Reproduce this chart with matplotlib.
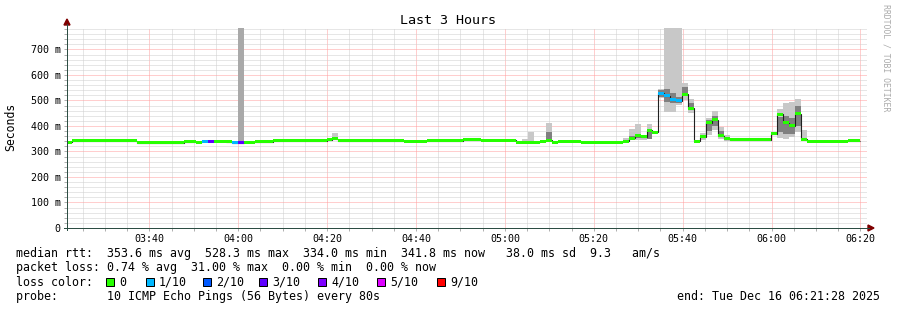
#!/usr/bin/env python3
"""
Smokeping style latency graph: Last 3 Hours
"""

import numpy as np
import matplotlib.pyplot as plt
from matplotlib.patches import Polygon, Rectangle
from matplotlib.lines import Line2D

W, H = 897, 310

start_clock = "03:21:28"
end_text = "end: Tue Dec 16 06:21:28 2025"
step_s = 80          # one probe round every 80 s
step_offset = -0.2   # first step starts just before the left edge
n_steps = 134

# median rtt, run-length coded over 80 s steps: first step, ms, loss (tenths)
seg_start = [0, 1, 12, 20, 22, 23, 24, 25, 27, 28, 29, 30, 32, 35, 44, 45, 46,
             57, 61, 67, 70, 76, 80, 81, 82, 83, 87, 94, 95, 96, 97, 98, 99,
             100, 101, 102, 103, 104, 105, 106, 107, 108, 109, 110, 111, 112,
             119, 120, 121, 122, 123, 124, 125, 132]
seg_median = [337, 342, 334, 338, 337, 341, 341, 341, 338, 335, 335, 336, 339,
              342, 346, 349, 342, 340, 342, 346, 344, 337, 341, 344, 337, 341,
              337, 340, 352, 361, 357, 384, 376, 528, 518, 502, 498, 525, 470,
              341, 357, 412, 424, 361, 349, 345, 369, 446, 413, 400, 447, 347,
              340, 343]
seg_loss = [0, 0, 0, 0, 0, 1, 3, 0, 0, 1, 3, 0, 0, 0, 0, 0, 0, 0, 0, 0, 0, 0,
            0, 0, 0, 0, 0, 0, 0, 0, 0, 0, 0, 1, 1, 1, 1, 0, 0, 0, 0, 0, 0, 0,
            0, 0, 0, 0, 0, 0, 0, 0, 0, 0]

# smoke (spread of the 10 pings) for the noisy steps
smoke_step = [29, 45, 57, 77, 78, 81, 94, 95, 96, 97, 98, 100, 101, 102, 103,
              104, 105, 107, 108, 109, 110, 111, 118, 120, 121, 122, 123, 124]
smoke_lo = [335, 346, 338, 337, 337, 341, 338, 345, 345, 345, 349, 510, 456,
            455, 482, 502, 450, 345, 365, 384, 349, 343, 343, 352, 348, 358,
            378, 345]
smoke_hi = [800, 372, 345, 350, 376, 413, 353, 388, 407, 365, 408, 545, 800,
            800, 800, 570, 505, 372, 431, 460, 397, 365, 354, 465, 489, 495,
            506, 384]
core_lo = [np.nan, np.nan, np.nan, np.nan, np.nan, 341, np.nan, 345, 353,
           np.nan, 349, 515, 494, 489, 490, 521, 463, np.nan, 380, 400, 355,
           np.nan, np.nan, 378, 370, 370, 400, np.nan]
core_hi = [np.nan, np.nan, np.nan, np.nan, np.nan, 376, np.nan, 360, 369,
           np.nan, 384, 540, 545, 530, 515, 554, 490, np.nan, 425, 440, 380,
           np.nan, np.nan, 436, 440, 430, 480, np.nan]

loss_labels = ["0", "1/10", "2/10", "3/10", "4/10", "5/10", "9/10"]
loss_tenths = [0, 1, 2, 3, 4, 5, 9]
loss_colors = ["#26ff00", "#00b8ff", "#0059ff", "#5e00ff", "#7e00ff",
               "#dd00ff", "#ff0000"]

tick_clock = ["03:40", "04:00", "04:20", "04:40", "05:00", "05:20", "05:40",
              "06:00", "06:20"]
ytick_vals = [0, 100, 200, 300, 400, 500, 600, 700]
ytick_labels = ["0", "100 m", "200 m", "300 m", "400 m", "500 m", "600 m",
                "700 m"]

legend_rows = [
    "median rtt:  353.6 ms avg  528.3 ms max  334.0 ms min  341.8 ms now   38.0 ms sd  9.3   am/s",
    "packet loss: 0.74 % avg  31.00 % max  0.00 % min  0.00 % now",
    "loss color:",
    "probe:       10 ICMP Echo Pings (56 Bytes) every 80s",
]

MONO = "DejaVu Sans Mono"


def clock_min(s):
    parts = [int(p) for p in s.split(":")]
    return parts[0] * 60 + parts[1] + (parts[2] / 60 if len(parts) > 2 else 0)


def fx(x):
    return x / W


def fy(y):
    return 1 - y / H


def step_time(k):
    return (np.asarray(k, dtype=float) + step_offset) * step_s / 60.0


t0 = clock_min(start_clock)
step_min = step_s / 60.0

fig = plt.figure(figsize=(W / 100, H / 100), dpi=100)
fig.patch.set_facecolor("white")
ax = fig.add_axes([fx(67), fy(228), 800 / W, 200 / H])

# smoke
sx = step_time(smoke_step)
lo = np.array(smoke_lo, float)
hi = np.array(smoke_hi, float)
shade = ["#a9a9a9" if k == 29 else "#c8c8c8" for k in smoke_step]
ax.bar(sx, hi - lo, bottom=lo, width=step_min, align="edge", color=shade,
       linewidth=0, zorder=2)
clo = np.array(core_lo, float)
chi = np.array(core_hi, float)
ok = ~np.isnan(clo)
ax.bar(sx[ok], (chi - clo)[ok], bottom=clo[ok], width=step_min, align="edge",
       color="#808080", linewidth=0, zorder=3)

# median: thin dark step line plus loss coloured band
edges = step_time(seg_start + [n_steps])
med = np.array(seg_median, float)
ax.stairs(med, edges, baseline=None, color="#202020", linewidth=0.8, zorder=4)
band = 3 / 0.255  # 3 px tall in ms
cmap = dict(zip(loss_tenths, loss_colors))
ax.bar(edges[:-1], band, bottom=med - band / 2, width=np.diff(edges),
       align="edge", color=[cmap[l] for l in seg_loss], linewidth=0, zorder=5)

# axes, grid
ax.set_xlim(0, 180)
ax.set_ylim(0, 784)
ax.set_xticks([clock_min(c) - t0 for c in tick_clock])
ax.set_xticklabels(tick_clock, fontfamily=MONO, fontsize=7.2)
ax.set_xticks(np.arange(clock_min("03:25") - t0, 180, 5), minor=True)
ax.set_yticks(ytick_vals)
ax.set_yticklabels(ytick_labels, fontfamily=MONO, fontsize=7.2)
ax.set_yticks(np.arange(0, 784, 20), minor=True)
dots = (0, (1, 1))
ax.grid(which="minor", color="#cfcfcf", linestyle=dots, linewidth=0.72)
ax.grid(which="major", color="#ff9f9f", linestyle=dots, linewidth=0.72)
ax.set_axisbelow(True)
ax.tick_params(which="both", length=2, width=0.72, color="#b0b0b0", pad=2.5)
for s in ax.spines.values():
    s.set_visible(False)

# axis lines and arrows
axis_col = "#2c4d43"
arrow_col = "#7f0000"
fig.add_artist(Line2D([fx(67), fx(67)], [fy(230), fy(24)], color=axis_col,
                      linewidth=0.72))
fig.add_artist(Line2D([fx(64), fx(869)], [fy(228), fy(228)], color=axis_col,
                      linewidth=0.72))
fig.add_artist(Polygon([(fx(64), fy(25)), (fx(70), fy(25)), (fx(67), fy(19))],
                       closed=True, color=arrow_col))
fig.add_artist(Polygon([(fx(868), fy(225)), (fx(868), fy(231)),
                        (fx(874), fy(228))], closed=True, color=arrow_col))

# texts
fig.text(fx(448), fy(24), "Last 3 Hours", ha="center", va="baseline",
         fontfamily=MONO, fontsize=9.6)
fig.text(fx(11), fy(127), "Seconds", rotation=90, ha="center", va="center",
         fontfamily=MONO, fontsize=8.3)
fig.text(fx(886), fy(4), "RRDTOOL / TOBI OETIKER", rotation=270, ha="center",
         va="top", fontfamily=MONO, fontsize=5.9, color="#aaaaaa")

row_base = [257, 271.5, 285.5, 300]
for txt, yb in zip(legend_rows, row_base):
    fig.text(fx(16), fy(yb), txt, ha="left", va="baseline", fontfamily=MONO,
             fontsize=8.4)
fig.text(fx(880), fy(row_base[3]), end_text, ha="right", va="baseline",
         fontfamily=MONO, fontsize=8.4)

box_x = [106, 146, 203, 259, 318, 377, 437]
for bx, lab, col in zip(box_x, loss_labels, loss_colors):
    fig.add_artist(Rectangle((fx(bx), fy(row_base[2])), 8 / W, 8 / H,
                             facecolor=col, edgecolor="black", linewidth=0.72))
    fig.text(fx(bx + 13), fy(row_base[2]), lab, ha="left", va="baseline",
             fontfamily=MONO, fontsize=8.4)

fig.savefig("out.png", dpi=100)
plt.close(fig)
